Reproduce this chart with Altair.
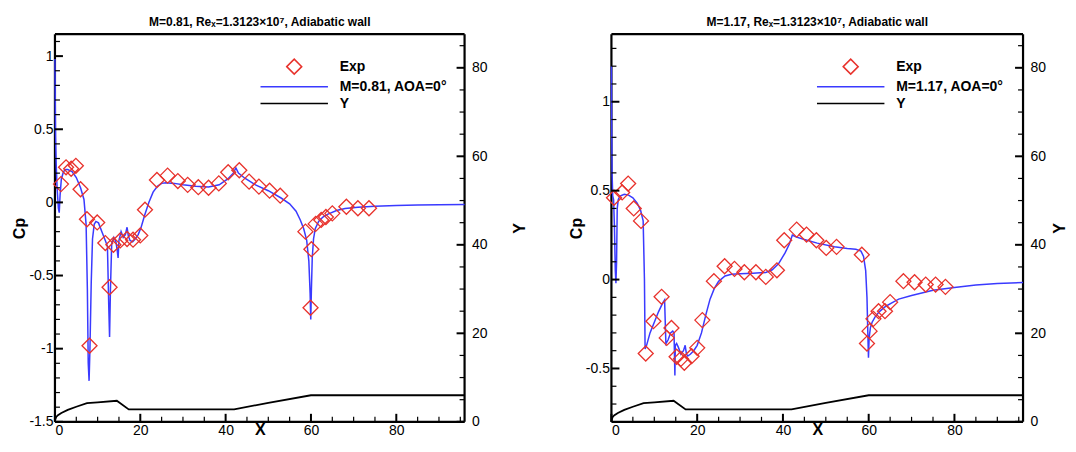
import altair as alt
import pandas as pd

# ---------------- data ----------------
LEGEND_L = ["Exp", "M=0.81, AOA=0°", "Y"]
LEGEND_R = ["Exp", "M=1.17, AOA=0°", "Y"]
TITLE_L = "M=0.81, Reₓ=1.3123×10⁷, Adiabatic wall"
TITLE_R = "M=1.17, Reₓ=1.3123×10⁷, Adiabatic wall"

# M=0.81 computed Cp
cfd_l_x = [0, 0.05, 0.15, 0.3, 0.5, 0.8, 1.0, 1.2, 1.5, 2.0, 2.5, 3.0, 4.0, 5.0, 6.0, 6.8, 7.3, 7.6, 7.8,
           8.0, 8.2, 8.5, 8.8, 9.2, 9.6, 10.2, 11.0, 11.8, 12.3, 12.6, 12.8, 13.0, 13.3, 13.8, 14.3, 14.6,
           14.8, 15.0, 15.5, 16.0, 16.5, 16.9, 17.2, 17.6, 18.2, 18.8, 19.5, 20.2, 21.0, 22.0, 23.0, 24.0,
           25.0, 26.0, 28.0, 30.0, 33.0, 36.0, 38.5, 40.5, 41.8, 42.4, 43.0, 44.5, 47.0, 50.0, 53.0, 55.0,
           56.5, 57.5, 58.3, 59.0, 59.5, 59.8, 59.95, 60.1, 60.3, 60.6, 61.0, 61.8, 62.8, 64.0, 66.0, 68.0,
           71.0, 75.0, 80.0, 85.0, 90.0, 96.0]
cfd_l_cp = [0.98, 0.75, 0.45, 0.25, 0.1, -0.04, -0.07, 0.05, 0.16, 0.21, 0.225, 0.225, 0.21, 0.17, 0.10,
            0.02, -0.15, -0.6, -1.1, -1.22, -1.0, -0.55, -0.25, -0.15, -0.13, -0.14, -0.2, -0.26, -0.3,
            -0.7, -0.92, -0.6, -0.28, -0.24, -0.27, -0.33, -0.38, -0.26, -0.2, -0.24, -0.22, -0.17, -0.23,
            -0.26, -0.27, -0.25, -0.22, -0.17, -0.09, 0.0, 0.07, 0.11, 0.13, 0.135, 0.13, 0.12, 0.11, 0.105,
            0.12, 0.16, 0.2, 0.235, 0.2, 0.165, 0.12, 0.08, 0.03, -0.01, -0.06, -0.12, -0.18, -0.26, -0.4,
            -0.62, -0.8, -0.6, -0.38, -0.25, -0.18, -0.13, -0.1, -0.08, -0.055, -0.042, -0.033, -0.027,
            -0.022, -0.018, -0.016, -0.015]

# M=0.81 experiment
exp_l_x = [1.4, 2.6, 3.8, 4.9, 6.0, 7.5, 8.1, 9.9, 11.8, 12.8, 13.7, 15.3, 16.9, 18.3, 20.0, 21.1, 23.9,
           26.4, 28.8, 31.1, 33.6, 36.0, 38.4, 40.6, 43.2, 45.5, 47.8, 50.3, 52.8, 58.7, 59.9, 60.1, 61.1,
           62.4, 63.5, 65.0, 68.3, 71.0, 73.6]
exp_l_cp = [0.125, 0.24, 0.23, 0.25, 0.09, -0.115, -0.98, -0.137, -0.278, -0.58, -0.29, -0.26, -0.25,
            -0.255, -0.226, -0.05, 0.153, 0.183, 0.146, 0.12, 0.104, 0.10, 0.13, 0.206, 0.22, 0.142, 0.108,
            0.08, 0.046, -0.2, -0.72, -0.32, -0.147, -0.12, -0.1, -0.075, -0.03, -0.04, -0.04]

# M=1.17 computed Cp
cfd_r_x = [0, 0.05, 0.15, 0.3, 0.5, 0.7, 0.9, 1.05, 1.2, 1.35, 1.6, 2.0, 3.0, 4.0, 5.0, 6.0, 6.8, 7.4, 7.7,
           7.85, 8.2, 9.0, 10.0, 11.0, 12.0, 12.4, 12.7, 13.2, 13.8, 14.3, 14.6, 14.8, 14.9, 15.2, 15.6,
           16.2, 16.8, 17.2, 17.5, 17.8, 18.4, 19.2, 20.0, 21.0, 22.0, 23.0, 24.0, 25.0, 26.5, 28.0, 30.0,
           33.0, 36.0, 37.5, 39.0, 40.5, 41.5, 42.2, 43.0, 45.0, 48.0, 52.0, 55.0, 57.0, 58.2, 58.8, 59.3,
           59.6, 59.8, 59.95, 60.1, 60.4, 60.8, 61.5, 62.5, 64.0, 65.5, 67.0, 70.0, 75.0, 80.0, 85.0, 90.0,
           96.0]
cfd_r_cp = [1.2, 0.9, 0.6, 0.47, 0.45, 0.3, 0.05, -0.02, 0.1, 0.4, 0.45, 0.47, 0.48, 0.475, 0.46, 0.43,
            0.39, 0.33, 0.0, -0.39, -0.37, -0.3, -0.24, -0.18, -0.13, -0.115, -0.36, -0.34, -0.3, -0.29,
            -0.3, -0.54, -0.37, -0.36, -0.38, -0.42, -0.4, -0.37, -0.42, -0.43, -0.42, -0.4, -0.37, -0.3,
            -0.2, -0.11, -0.05, -0.01, 0.02, 0.03, 0.033, 0.035, 0.04, 0.055, 0.09, 0.15, 0.2, 0.25, 0.24,
            0.225, 0.205, 0.185, 0.175, 0.17, 0.16, 0.13, 0.05, -0.1, -0.3, -0.44, -0.33, -0.27, -0.24,
            -0.21, -0.18, -0.15, -0.13, -0.11, -0.09, -0.06, -0.045, -0.03, -0.022, -0.017]

# M=1.17 experiment
exp_r_x = [0.6, 2.5, 3.9, 5.2, 6.9, 8.0, 9.8, 11.7, 12.9, 14.0, 15.2, 16.2, 17.0, 18.7, 20.0, 21.2, 23.9,
           26.4, 28.7, 31.0, 33.7, 36.0, 38.6, 40.3, 43.2, 45.5, 47.8, 50.1, 52.5, 58.4, 59.6, 60.2, 61.1,
           62.3, 63.8, 65.0, 68.1, 70.7, 73.3, 75.6, 77.9]
exp_r_cp = [0.46, 0.49, 0.54, 0.40, 0.33, -0.416, -0.234, -0.097, -0.328, -0.272, -0.434, -0.446, -0.468,
            -0.431, -0.384, -0.228, -0.009, 0.075, 0.06, 0.041, 0.041, 0.015, 0.052, 0.221, 0.281, 0.253,
            0.221, 0.178, 0.184, 0.14, -0.36, -0.29, -0.221, -0.178, -0.178, -0.127, -0.009, -0.015,
            -0.028, -0.028, -0.041]

# body geometry (right axis Y)
geo_x = [0, 0.1, 0.3, 0.7, 1.5, 3.0, 5.0, 7.5, 10.0, 14.5, 17.3, 30.0, 42.0, 50.0, 60.0, 96.0]
geo_y = [0, 0.6, 1.1, 1.5, 2.0, 2.7, 3.4, 4.2, 4.4, 4.75, 2.8, 2.8, 2.8, 4.3, 6.0, 6.0]

# axis ticks
x_major = [0, 20, 40, 60, 80]
x_minor = [5, 10, 15, 25, 30, 35, 45, 50, 55, 65, 70, 75, 85, 90, 95]
y_major = [0, 20, 40, 60, 80]
y_minor = [5, 10, 15, 25, 30, 35, 45, 50, 55, 65, 70, 75, 85]
cp_l_major = [-1.5, -1, -0.5, 0, 0.5, 1]
cp_l_minor = [-1.4, -1.3, -1.2, -1.1, -0.9, -0.8, -0.7, -0.6, -0.4, -0.3, -0.2, -0.1,
              0.1, 0.2, 0.3, 0.4, 0.6, 0.7, 0.8, 0.9, 1.1]
cp_r_major = [-0.5, 0, 0.5, 1]
cp_r_minor = [-0.7, -0.6, -0.4, -0.3, -0.2, -0.1, 0.1, 0.2, 0.3, 0.4, 0.6, 0.7, 0.8, 0.9,
              1.1, 1.2, 1.3]

X_DOMAIN = [0, 96]
Y_DOMAIN = [0, 87.6]
CP_L_DOMAIN = [-1.5, 1.15]
CP_R_DOMAIN = [-0.8, 1.38]

RED = "#e8322c"
BLUE = "#3a3aff"
FONT = "Liberation Sans"
H = 388
LINE_PATH = "M-4.5,0L4.5,0"

AX_STYLE = dict(labelFont=FONT, labelFontSize=14, labelColor="black", titleFont=FONT,
                titleFontSize=16, titleFontWeight="bold", titleColor="black",
                ticks=False, domain=False, grid=False, labelExpr="'' + datum.value")


def panel(title, width, legend_labels, cp_dom, cx, ccp, ex, ecp, cp_major, cp_minor, legend_x, ytp):
    xs = alt.Scale(domain=X_DOMAIN, nice=False, zero=False)
    cps = alt.Scale(domain=cp_dom, nice=False, zero=False)
    ys = alt.Scale(domain=Y_DOMAIN, nice=False, zero=False)

    x_axis = alt.Axis(title="X", values=x_major, labelPadding=2, titlePadding=-16, **AX_STYLE)
    cp_axis = alt.Axis(title="Cp", values=cp_major, labelPadding=2, titlePadding=1, **AX_STYLE)
    y_axis = alt.Axis(title="Y", orient="right", values=y_major, labelPadding=7, titlePadding=ytp,
                      titleAngle=270, titleBaseline="top", **AX_STYLE)

    def X(field):
        return alt.X(field, scale=xs, axis=x_axis)

    cfd = pd.DataFrame({"x": cx, "cp": ccp, "idx": list(range(len(cx)))})
    exp = pd.DataFrame({"x": ex, "cp": ecp, "series": [legend_labels[0]] * len(ex)})
    geo = pd.DataFrame({"x": geo_x, "y": geo_y})

    legend = alt.Legend(title=None, orient="none", legendX=legend_x, legendY=24,
                        labelFont=FONT, labelFontSize=14, labelFontWeight="bold",
                        labelColor="black", symbolSize=225, symbolStrokeWidth=1.5,
                        labelOffset=37, rowPadding=1, padding=0)

    line = alt.Chart(cfd).mark_line(color=BLUE, strokeWidth=1.5).encode(
        x=X("x:Q"),
        y=alt.Y("cp:Q", scale=cps, axis=cp_axis),
        order="idx:Q",
    )
    pts = alt.Chart(exp).mark_point(filled=False, size=225, strokeWidth=1.3, opacity=1).encode(
        x=X("x:Q"),
        y=alt.Y("cp:Q", scale=cps, axis=None),
        color=alt.Color("series:N",
                        scale=alt.Scale(domain=legend_labels, range=[RED, BLUE, "black"]),
                        legend=legend),
        shape=alt.Shape("series:N",
                        scale=alt.Scale(domain=legend_labels, range=["diamond", LINE_PATH, LINE_PATH]),
                        legend=legend),
    )

    def hticks(vals, scale, x0, x1, sw):
        return alt.Chart(pd.DataFrame({"t": vals})).mark_rule(color="black", strokeWidth=sw).encode(
            y=alt.Y("t:Q", scale=scale, axis=None), x=alt.value(x0), x2=alt.value(x1))

    def vticks(vals, length, sw):
        return alt.Chart(pd.DataFrame({"t": vals})).mark_rule(color="black", strokeWidth=sw).encode(
            x=X("t:Q"), y=alt.value(H), y2=alt.value(H - length))

    geo_line = alt.Chart(geo).mark_line(color="black", strokeWidth=1.8).encode(
        x=X("x:Q"),
        y=alt.Y("y:Q", scale=ys, axis=y_axis),
    )

    one = pd.DataFrame({"f": [0]})

    def vedge(xv):
        return alt.Chart(one).mark_rule(color="black", strokeWidth=2.2).encode(
            x=alt.value(xv), y=alt.value(0), y2=alt.value(H))

    frame = [
        hticks([cp_dom[0], cp_dom[1]], cps, 0, width, 2.2),
        vedge(0),
        vedge(width),
    ]

    return alt.layer(
        *frame,
        line, geo_line, pts,
        hticks(cp_major, cps, 0, 8, 2), hticks(cp_minor, cps, 0, 5, 1.2),
        vticks(x_major, 8, 2), vticks(x_minor, 5, 1.2),
        hticks(y_major, ys, width - 8, width, 2), hticks(y_minor, ys, width - 5, width, 1.2),
    ).resolve_scale(y="independent").properties(
        width=width, height=H,
        title=alt.TitleParams(title, font=FONT, fontSize=12, fontWeight="bold", color="black", offset=4),
    )


left = panel(TITLE_L, 410, LEGEND_L, CP_L_DOMAIN, cfd_l_x, cfd_l_cp, exp_l_x, exp_l_cp,
             cp_l_major, cp_l_minor, 231, 24)
right = panel(TITLE_R, 412, LEGEND_R, CP_R_DOMAIN, cfd_r_x, cfd_r_cp, exp_r_x, exp_r_cp,
              cp_r_major, cp_r_minor, 231, 6)

chart = alt.hconcat(left, right, spacing=40).resolve_scale(
    color="independent", shape="independent"
).properties(
    padding={"left": 3, "top": 7, "right": 0, "bottom": 0}
).configure(background="white").configure_view(stroke=None)

chart.save("out.html", embed_options={"renderer": "svg", "actions": False})
